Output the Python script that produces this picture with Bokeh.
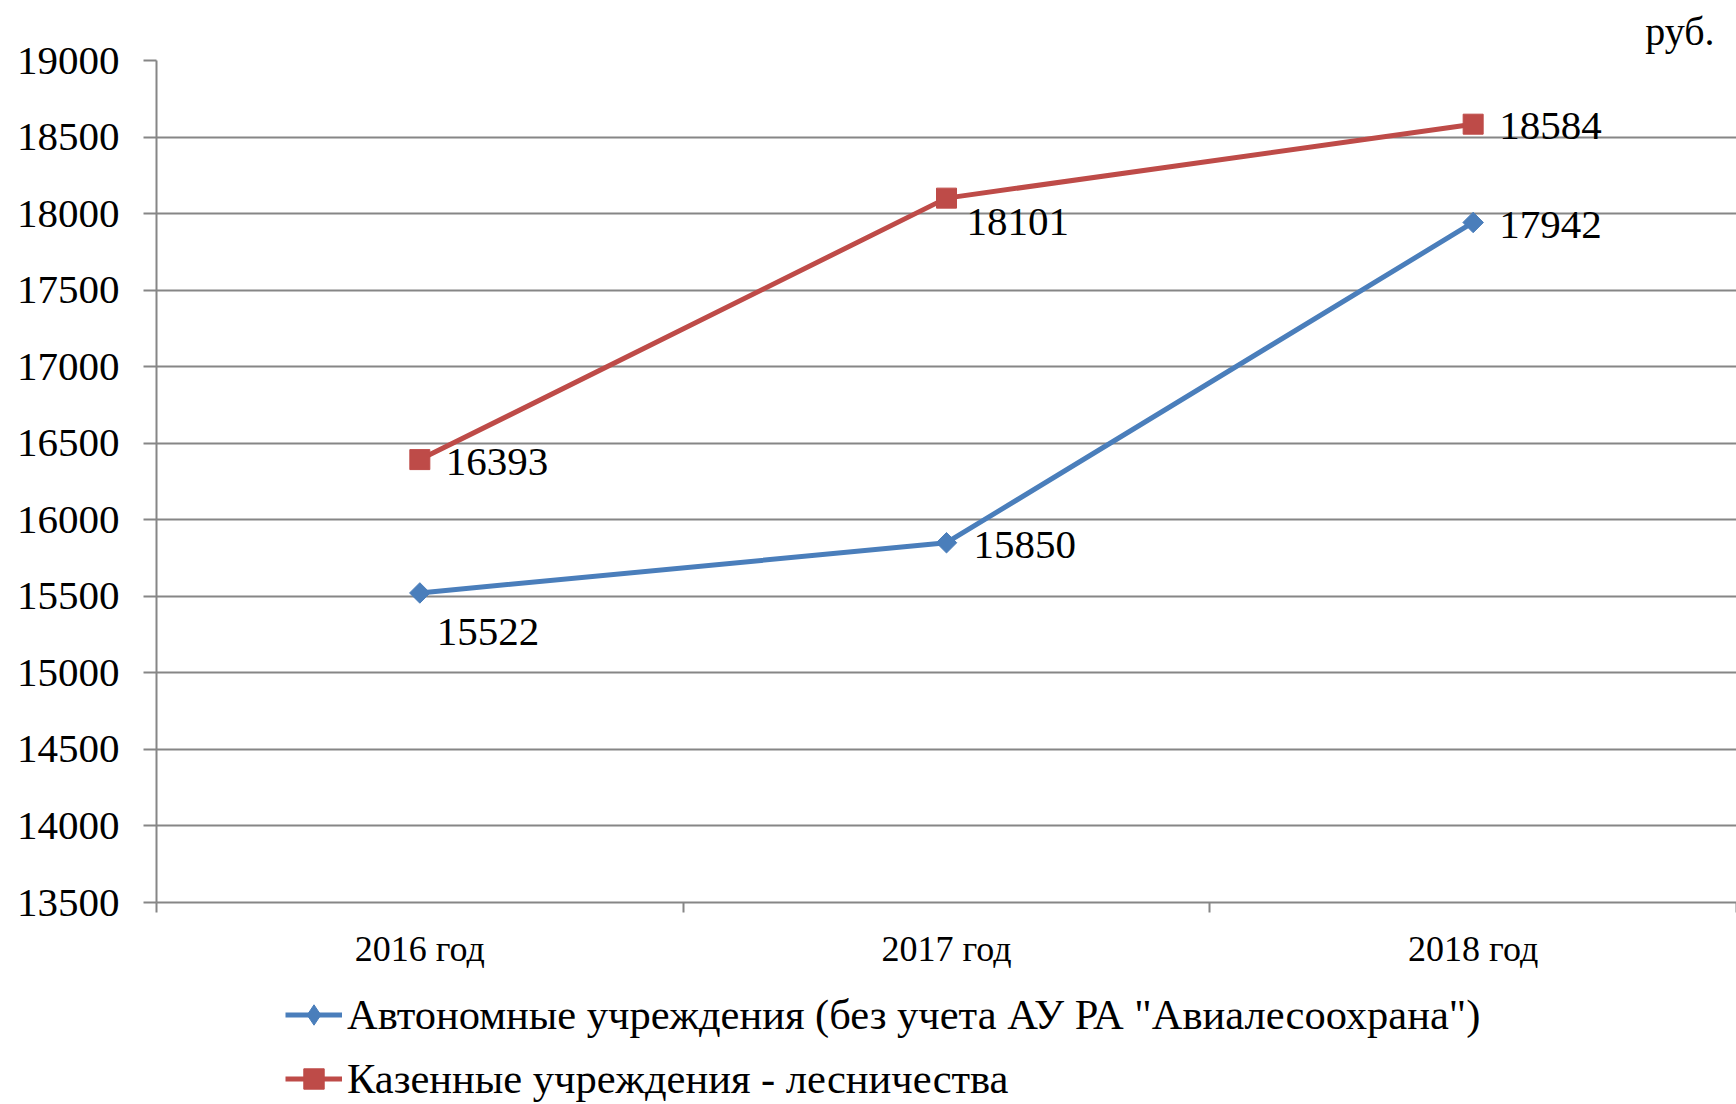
from bokeh.plotting import figure
from bokeh.layouts import column
from bokeh.core.properties import value
from bokeh.models import FixedTicker, Legend, LegendItem, Range1d, Title
from bokeh.embed import file_html
from bokeh.resources import INLINE

# ---- data ----
years = ["2016 год", "2017 год", "2018 год"]
autonomous = [15522, 15850, 17942]
kazennye = [16393, 18101, 18584]
series_names = ['Автономные учреждения (без учета АУ РА "Авиалесоохрана")',
                "Казенные учреждения - лесничества"]
y_ticks = [13500, 14000, 14500, 15000, 15500, 16000, 16500, 17000, 17500, 18000, 18500, 19000]
unit = "руб."

# ---- style ----
FONT = "Liberation Serif"
GREY = "#868686"
BLUE = "#4A7EBB"
RED = "#BE4B48"

xs = [i + 0.5 for i in range(len(years))]
bounds = list(range(len(years) + 1))

W = 1736
H = 1104
TOP_H = 982
p = figure(width=W, height=TOP_H, output_backend="svg", toolbar_location=None,
           x_range=Range1d(0, len(years)), y_range=Range1d(y_ticks[0], y_ticks[-1]),
           min_border_left=156, min_border_right=0, min_border_top=60,
           min_border_bottom=TOP_H - 902)
p.outline_line_color = None
p.background_fill_color = "white"
p.border_fill_color = "white"

# y axis
p.yaxis.ticker = FixedTicker(ticks=y_ticks)
p.yaxis.axis_line_color = GREY
p.yaxis.axis_line_width = 2
p.yaxis.major_tick_line_color = GREY
p.yaxis.major_tick_line_width = 2
p.yaxis.major_tick_out = 13
p.yaxis.major_tick_in = 0
p.yaxis.minor_tick_line_color = None
p.yaxis.major_label_standoff = 24
p.yaxis.major_label_text_font = FONT
p.yaxis.major_label_text_font_size = "41px"
p.yaxis.major_label_text_color = "black"

# x axis: labels at category centres, ticks at boundaries
p.xaxis.ticker = FixedTicker(ticks=xs, minor_ticks=bounds)
p.xaxis.major_label_overrides = {x: y for x, y in zip(xs, years)}
p.xaxis.axis_line_color = GREY
p.xaxis.axis_line_width = 2
p.xaxis.major_tick_line_color = None
p.xaxis.major_tick_out = 0
p.xaxis.minor_tick_line_color = GREY
p.xaxis.minor_tick_line_width = 2
p.xaxis.minor_tick_out = 10
p.xaxis.minor_tick_in = 0
p.xaxis.major_label_standoff = 16
p.xaxis.major_label_text_font = FONT
p.xaxis.major_label_text_font_size = "36px"
p.xaxis.major_label_text_color = "black"

p.xgrid.grid_line_color = None
p.ygrid.ticker = FixedTicker(ticks=y_ticks)
p.ygrid.grid_line_color = GREY
p.ygrid.grid_line_width = 2

# series
p.line(xs, autonomous, line_color=BLUE, line_width=5)
p.scatter(xs, autonomous, marker="square", angle=0.7854, size=14.5,
          fill_color=BLUE, line_color=BLUE)
p.line(xs, kazennye, line_color=RED, line_width=5)
p.scatter(xs, kazennye, marker="square", size=20, fill_color=RED, line_color=RED)

# data labels
lab = dict(text_font=value(FONT), text_font_size="41px", text_color="black",
           text_align="left", text_baseline="middle")
p.text(xs, autonomous, text=[str(v) for v in autonomous],
       x_offset=[17, 27, 26], y_offset=[39, 2, 3], **lab)
p.text(xs, kazennye, text=[str(v) for v in kazennye],
       x_offset=[26, 20, 26], y_offset=[2, 24, 2], **lab)

# unit label
p.add_layout(Title(text=unit, align="right", text_font=FONT, text_font_size="40px",
                   text_font_style="normal", text_color="black", standoff=13, offset=22), "above")

# ---- legend figure ----
LEG_H = H - TOP_H
q = figure(width=W, height=LEG_H, output_backend="svg", toolbar_location=None,
           x_range=Range1d(0, 1), y_range=Range1d(0, 1),
           min_border=0, x_axis_location=None, y_axis_location=None)
q.outline_line_color = None
q.grid.visible = False
q.border_fill_color = "white"
lr1 = q.line([-10, -9], [-10, -10], line_color=BLUE, line_width=5)
mr1 = q.scatter([-10], [-10], marker="diamond", size=20,
                fill_color=BLUE, line_color=BLUE)
lr2 = q.line([-10, -9], [-10, -10], line_color=RED, line_width=5)
mr2 = q.scatter([-10], [-10], marker="square", size=20, fill_color=RED, line_color=RED)

legend = Legend(items=[LegendItem(label=series_names[0], renderers=[lr1, mr1]),
                       LegendItem(label=series_names[1], renderers=[lr2, mr2])],
                orientation="vertical", location=(129, 0),
                label_text_font=FONT, label_text_font_size="42.5px",
                label_text_color="black", label_standoff=5, label_height=51,
                glyph_width=57, glyph_height=51, spacing=13, padding=0, margin=0,
                border_line_color=None, background_fill_alpha=0)
q.add_layout(legend, "center")

layout = column(p, q, spacing=0)
open("out.html", "w").write(file_html(layout, INLINE))
